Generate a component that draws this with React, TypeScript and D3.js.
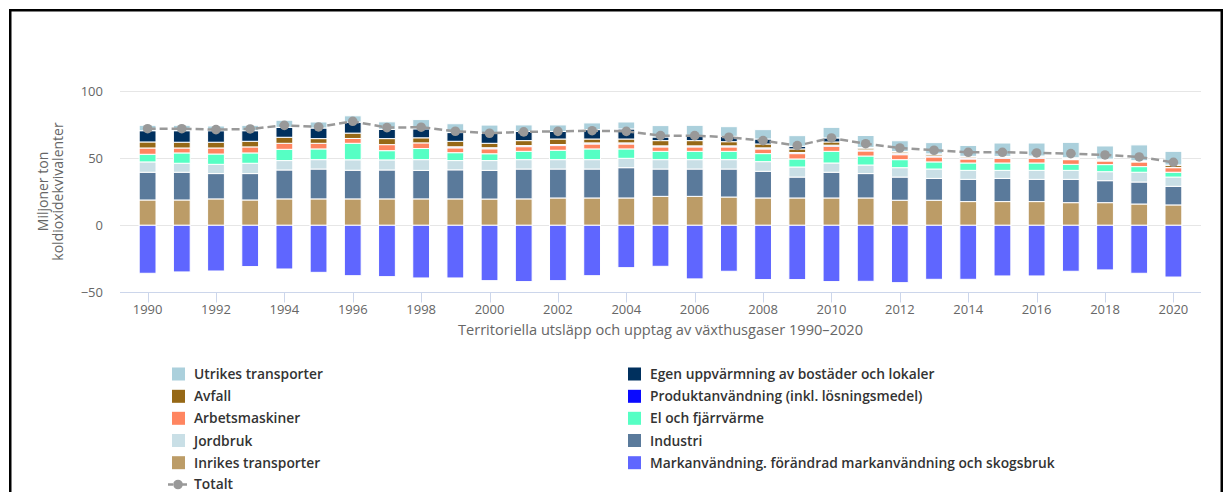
import React, { useEffect, useRef } from 'react';
import * as d3 from 'd3';

// år 1990-2020
const years = [1990, 1991, 1992, 1993, 1994, 1995, 1996, 1997, 1998, 1999, 2000, 2001, 2002, 2003, 2004, 2005,
  2006, 2007, 2008, 2009, 2010, 2011, 2012, 2013, 2014, 2015, 2016, 2017, 2018, 2019, 2020];

// miljoner ton koldioxidekvivalenter
const inrikes = [18.9, 18.9, 19.7, 18.9, 19.7, 19.7, 19.7, 19.7, 19.7, 19.7, 19.6, 19.7, 20.4, 20.4, 20.4, 21.6,
  21.6, 21.1, 20.4, 20.4, 20.4, 20.4, 18.7, 18.7, 17.7, 17.7, 17.7, 16.9, 16.9, 15.9, 15.2];
const industri = [20.7, 20.7, 18.9, 19.7, 21.6, 22.3, 21.4, 21.6, 21.3, 21.7, 21.4, 22.3, 21.6, 21.6, 22.6, 20.4,
  20.4, 20.9, 19.9, 15.6, 19.2, 18.2, 17.3, 16.3, 16.6, 17.3, 16.6, 17.4, 16.4, 16.4, 13.9];
const jordbruk = [7.7, 6.7, 6.9, 7.7, 7.0, 7.0, 7.8, 7.5, 8.0, 6.9, 7.3, 7.0, 7.0, 7.0, 7.0, 7.0,
  7.0, 7.0, 7.2, 7.5, 6.9, 6.4, 7.0, 7.0, 6.7, 6.0, 6.7, 6.7, 6.7, 7.3, 6.9];
const elFjarrvarme = [5.7, 7.7, 7.7, 7.7, 8.4, 8.0, 12.3, 6.9, 8.3, 5.9, 5.1, 6.2, 7.0, 8.0, 7.0, 6.2,
  6.2, 6.2, 6.0, 6.0, 8.7, 6.7, 6.0, 5.3, 5.5, 5.5, 5.5, 4.5, 5.3, 4.2, 3.6];
const arbetsmaskiner = [4.7, 3.7, 4.5, 4.5, 4.5, 4.2, 3.6, 4.5, 4.2, 3.6, 3.7, 3.5, 3.5, 3.7, 3.7, 3.3,
  3.3, 3.3, 3.5, 4.0, 3.8, 3.8, 3.7, 3.7, 3.0, 3.5, 3.5, 3.5, 2.7, 3.5, 3.4];
const produkt = [0, 0, 0, 0, 0, 0, 0, 0, 0, 0.8, 0.8, 0.8, 0.8, 0.8, 0.8, 0.8,
  0.8, 0.8, 0.8, 0.8, 0.8, 0.8, 0.8, 0.8, 0.8, 0.7, 0.7, 0.7, 0.7, 0.2, 0.2];
const avfall = [4.5, 4.3, 4.3, 4.2, 4.5, 3.5, 4.0, 4.5, 3.8, 4.1, 3.3, 3.7, 4.1, 2.9, 2.9, 3.9,
  3.9, 3.1, 2.9, 2.7, 2.4, 1.3, 1.2, 1.2, 0.9, 0.5, 0.8, 0.5, 0.5, 0.5, 1.6];
const egenUppvarmning = [8.4, 8.6, 8.6, 7.9, 7.4, 7.9, 8.2, 6.9, 6.7, 6.5, 7.4, 6.9, 5.6, 7.0, 7.5, 2.7,
  3.7, 4.0, 3.7, 2.0, 3.0, 0.5, 0.4, 0.3, 0.3, 0.2, 0.2, 0.2, 0.2, 0.2, 0.2];
const utrikes = [4.0, 4.0, 3.5, 4.0, 5.3, 4.5, 4.7, 5.6, 6.9, 6.6, 6.2, 4.8, 4.9, 5.0, 5.2, 8.5,
  7.7, 7.2, 7.0, 7.9, 7.9, 8.9, 8.0, 8.4, 8.1, 10.0, 9.7, 11.5, 9.8, 11.8, 10.2];
const markanvandning = [-35.8, -34.8, -34.1, -30.8, -32.6, -35.1, -37.6, -38.3, -39.3, -39.3, -41.3, -42.0, -41.3, -37.6, -31.6, -30.6,
  -40.0, -34.3, -40.5, -40.5, -42.0, -41.8, -42.8, -40.3, -40.3, -37.8, -37.8, -34.3, -33.3, -35.8, -38.6];
const totalt = [72.1, 72.1, 71.4, 71.9, 74.6, 73.4, 77.6, 72.9, 73.2, 70.2, 68.7, 69.7, 70.1, 70.6, 70.1, 66.9,
  66.9, 65.7, 63.2, 59.5, 65.2, 60.9, 57.7, 56.0, 54.5, 54.5, 54.0, 53.5, 52.5, 51.0, 47.0];

const yTicks = [-50, 0, 50, 100];
const xTicks = [1990, 1992, 1994, 1996, 1998, 2000, 2002, 2004, 2006, 2008, 2010, 2012, 2014, 2016, 2018, 2020];

// ordning i stapeln nerifrån och upp
const series = [
  { key: 'inrikes', name: 'Inrikes transporter', color: '#bc9c67', values: inrikes },
  { key: 'industri', name: 'Industri', color: '#5a7a9b', values: industri },
  { key: 'jordbruk', name: 'Jordbruk', color: '#c9dfe6', values: jordbruk },
  { key: 'el', name: 'El och fjärrvärme', color: '#56ffc4', values: elFjarrvarme },
  { key: 'arbets', name: 'Arbetsmaskiner', color: '#ff8560', values: arbetsmaskiner },
  { key: 'produkt', name: 'Produktanvändning (inkl. lösningsmedel)', color: '#0a0aff', values: produkt },
  { key: 'avfall', name: 'Avfall', color: '#966816', values: avfall },
  { key: 'egen', name: 'Egen uppvärmning av bostäder och lokaler', color: '#00305e', values: egenUppvarmning },
  { key: 'utrikes', name: 'Utrikes transporter', color: '#abd0dc', values: utrikes },
  { key: 'mark', name: 'Markanvändning. förändrad markanvändning och skogsbruk', color: '#5f66ff', values: markanvandning },
];

// legendens ordning (två kolumner, radvis)
const legendOrder = ['utrikes', 'egen', 'avfall', 'produkt', 'arbets', 'el', 'jordbruk', 'industri', 'inrikes', 'mark', 'totalt'];

const FONT = '"Open Sans", sans-serif';

function drawChart(svgEl: SVGSVGElement) {
  const svg = d3.select(svgEl);
  svg.selectAll('*').remove();

  const W = 1229;
  const H = 492;
  svg.attr('width', W).attr('height', H);

  // ram
  svg.append('rect')
    .attr('x', 10.25).attr('y', 10.25)
    .attr('width', 1211.5).attr('height', 500)
    .attr('fill', '#fff').attr('stroke', '#000').attr('stroke-width', 2.5);

  const left = 120, right = 1201;
  const x = d3.scaleLinear().domain([1990, 2020]).range([147.6, 1173.4]);
  const y = d3.scaleLinear().domain([-50, 100]).range([292.3, 91.3]);

  // gridlinjer
  svg.append('g').selectAll('line')
    .data(yTicks.filter(t => t > -50))
    .join('line')
    .attr('x1', left).attr('x2', right)
    .attr('y1', d => Math.round(y(d)) + 0.5).attr('y2', d => Math.round(y(d)) + 0.5)
    .attr('stroke', '#e6e6e6');

  // y-etiketter
  svg.append('g').selectAll('text')
    .data(yTicks)
    .join('text')
    .attr('x', 103).attr('y', d => y(d) + 4.5)
    .attr('text-anchor', 'end')
    .attr('font-family', FONT).attr('font-size', 13).attr('fill', '#666')
    .text(d => d < 0 ? '\u2212' + Math.abs(d) : String(d));

  // y-titel
  const yt = svg.append('g').attr('font-family', FONT).attr('font-size', 14).attr('fill', '#666');
  yt.append('text')
    .attr('transform', `translate(48,191.5) rotate(-90)`)
    .attr('text-anchor', 'middle')
    .text('Miljoner ton');
  yt.append('text')
    .attr('transform', `translate(63,191.5) rotate(-90)`)
    .attr('text-anchor', 'middle')
    .text('koldioxidekvivalenter');

  // staplar
  const table = years.map((yr, i) => {
    const row: Record<string, number> = { year: yr };
    series.forEach(s => { row[s.key] = s.values[i]; });
    return row;
  });
  const stack = d3.stack<Record<string, number>>()
    .keys(series.map(s => s.key))
    .offset(d3.stackOffsetDiverging);
  const stacked = stack(table);
  const bw = 16.8;

  svg.append('g').selectAll('g')
    .data(stacked)
    .join('g')
    .attr('fill', (d, i) => series[i].color)
    .selectAll('rect')
    .data(d => d.filter(p => p[1] !== p[0]))
    .join('rect')
    .attr('x', d => x(d.data.year) - bw / 2)
    .attr('width', bw)
    .attr('y', d => y(Math.max(d[0], d[1])))
    .attr('height', d => Math.abs(y(d[0]) - y(d[1])))
    .attr('stroke', '#fff')
    .attr('stroke-width', 1);

  // x-axel
  const axisY = Math.round(y(-50)) + 0.5;
  svg.append('line')
    .attr('x1', left).attr('x2', right)
    .attr('y1', axisY).attr('y2', axisY)
    .attr('stroke', '#ccd6eb');
  svg.append('g').selectAll('line')
    .data(xTicks)
    .join('line')
    .attr('x1', d => Math.round(x(d)) + 0.5).attr('x2', d => Math.round(x(d)) + 0.5)
    .attr('y1', axisY).attr('y2', axisY + 10)
    .attr('stroke', '#ccd6eb');
  svg.append('g').selectAll('text')
    .data(xTicks)
    .join('text')
    .attr('x', d => x(d)).attr('y', 314)
    .attr('text-anchor', 'middle')
    .attr('font-family', FONT).attr('font-size', 13).attr('fill', '#666')
    .text(d => String(d));
  svg.append('text')
    .attr('x', (left + right) / 2).attr('y', 335)
    .attr('text-anchor', 'middle')
    .attr('font-family', FONT).attr('font-size', 14.6).attr('fill', '#666')
    .text('Territoriella utsläpp och upptag av växthusgaser 1990\u20132020');

  // totalt
  const line = d3.line<number>()
    .x((d, i) => x(years[i]))
    .y(d => y(d));
  svg.append('path')
    .attr('d', line(totalt))
    .attr('fill', 'none')
    .attr('stroke', '#999')
    .attr('stroke-width', 2.5)
    .attr('stroke-dasharray', '8,4');
  svg.append('g').selectAll('circle')
    .data(totalt)
    .join('circle')
    .attr('cx', (d, i) => x(years[i]))
    .attr('cy', d => y(d))
    .attr('r', 4.8)
    .attr('fill', '#999');

  // legend
  const rowY = [374, 396.3, 418.3, 440.5, 462.7, 484.5];
  const colX = [172, 628];
  const lg = svg.append('g').attr('font-family', FONT).attr('font-size', 13.8)
    .attr('font-weight', 600).attr('fill', '#333');
  legendOrder.forEach((key, i) => {
    const cx = colX[i % 2];
    const cy = rowY[Math.floor(i / 2)];
    const item = lg.append('g');
    if (key === 'totalt') {
      item.append('line')
        .attr('x1', cx - 4).attr('x2', cx + 16)
        .attr('y1', cy).attr('y2', cy)
        .attr('stroke', '#999').attr('stroke-width', 2.5).attr('stroke-dasharray', '5,2');
      item.append('circle').attr('cx', cx + 6).attr('cy', cy).attr('r', 4.8).attr('fill', '#999');
      item.append('text').attr('x', cx + 22).attr('y', cy + 4.5).text('Totalt');
    } else {
      const s = series.find(d => d.key === key)!;
      item.append('rect')
        .attr('x', cx).attr('y', cy - 6.5)
        .attr('width', 13).attr('height', 13)
        .attr('fill', s.color);
      item.append('text').attr('x', cx + 22).attr('y', cy + 5).text(s.name);
    }
  });
}

export default function App() {
  const ref = useRef<SVGSVGElement>(null);

  useEffect(() => {
    document.body.style.margin = '0';
    if (ref.current) drawChart(ref.current);
  }, []);

  return (
    <div>
      <svg ref={ref} style={{ display: 'block' }} />
    </div>
  );
}
